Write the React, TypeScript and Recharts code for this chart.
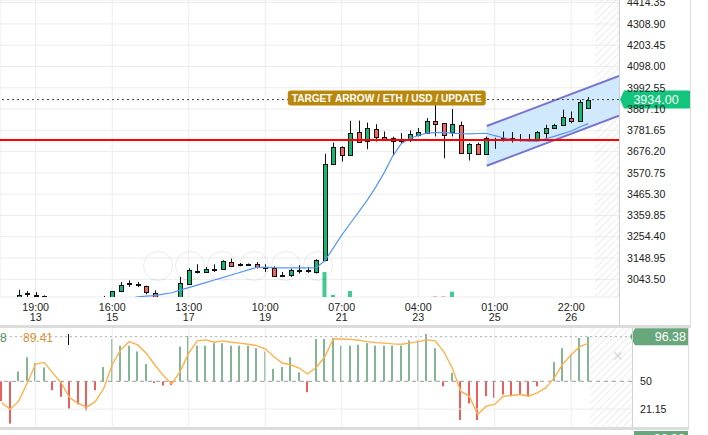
import React from "react";
import {
    Area,
    Bar,
    CartesianGrid,
    ComposedChart,
    Line,
    ReferenceArea,
    ReferenceDot,
    ReferenceLine,
    XAxis,
    YAxis,
} from "recharts";

// candles, 5h each, index 0..69
const openP = [
    2925, 2935, 2935, 2970, 2968, 2962, 2945, 2940, 2925, 2915,
    2925, 2930, 2945, 2948, 2984, 3021, 3021, 3009, 2977, 2945,
    2946, 2945, 3022, 3085, 3080, 3095, 3097, 3129, 3117, 3116,
    3117, 3105, 3100, 3066, 3067, 3087, 3092, 3080, 3138, 3615,
    3698, 3659, 3773, 3730, 3788, 3751, 3731, 3741, 3734, 3758,
    3768, 3829, 3817, 3773, 3809, 3668, 3715, 3664, 3735, 3734,
    3746, 3740, 3736, 3735, 3768, 3793, 3809, 3845, 3826, 3892,
];
const highP = [
    2940, 2950, 2992, 2985, 2980, 2964, 2954, 2948, 2935, 2930,
    2940, 2945, 2961, 2986, 3030, 3038, 3030, 3012, 2989, 2954,
    2955, 3055, 3098, 3118, 3105, 3118, 3138, 3146, 3124, 3122,
    3129, 3118, 3108, 3080, 3097, 3113, 3105, 3143, 3665, 3721,
    3702, 3829, 3830, 3820, 3812, 3776, 3750, 3768, 3781, 3793,
    3842, 3908, 3818, 3887, 3825, 3718, 3721, 3751, 3745, 3776,
    3773, 3763, 3763, 3778, 3809, 3814, 3884, 3875, 3933, 3946,
];
const lowP = [
    2915, 2925, 2928, 2950, 2955, 2940, 2930, 2920, 2905, 2900,
    2915, 2920, 2935, 2940, 2980, 3005, 3005, 2969, 2940, 2935,
    2938, 2940, 3018, 3072, 3075, 3080, 3095, 3105, 3108, 3110,
    3097, 3080, 3055, 3060, 3055, 3072, 3075, 3072, 3133, 3610,
    3627, 3655, 3722, 3688, 3726, 3735, 3655, 3718, 3724, 3751,
    3765, 3751, 3643, 3751, 3668, 3632, 3660, 3660, 3690, 3726,
    3721, 3726, 3726, 3730, 3743, 3788, 3806, 3817, 3824, 3890,
];
const closeP = [
    2935, 2940, 2964, 2974, 2966, 2950, 2940, 2925, 2915, 2925,
    2930, 2940, 2952, 2984, 3014, 3023, 3015, 2980, 2952, 2948,
    2950, 3027, 3092, 3087, 3097, 3097, 3134, 3110, 3116, 3117,
    3105, 3104, 3060, 3067, 3088, 3089, 3083, 3141, 3615, 3698,
    3660, 3768, 3726, 3793, 3748, 3738, 3746, 3730, 3763, 3771,
    3829, 3812, 3759, 3815, 3671, 3715, 3664, 3743, 3738, 3746,
    3734, 3735, 3741, 3773, 3793, 3806, 3847, 3826, 3922, 3934,
];
const maP = [
    null, null, null, null, null, null, null, null, null, null,
    null, null, null, null, 2940, 2948, 2956, 2960, 2963, 2970,
    2977, 2990, 3002, 3015, 3027, 3040, 3052, 3065, 3077, 3090,
    3103, 3103, 3101, 3100, 3100, 3100, 3100, 3101, 3135, 3198,
    3262, 3320, 3378, 3436, 3500, 3572, 3654, 3715, 3741, 3756,
    3768, 3770, 3771, 3768, 3765, 3764, 3766, 3767, 3755, 3745,
    3737, 3731, 3728, 3727, 3740, 3752, 3765, 3778, 3798, 3815,
];
const volP = [
    0, 0, 0, 0, 0, 0, 0, 0, 0, 0,
    0, 0, 0, 0, 0, 0, 0, 0, 0, 0,
    0, 0, 0, 0, 0, 0, 0, 0, 0, 0,
    0, 0, 0, 0, 0, 0, 0, 0, 84, 7,
    0, 20, 0, 0, 0, 0, 0, 0, 0, 0,
    0, 2, 2, 18, 0, 0, 0, 0, 0, 0,
    0, 0, 0, 0, 0, 0, 0, 0, 0, 0,
];

// oscillator pane
const histV = [
    29.4, 6, 60.3, 75, 69, 64.4, 40.7, 33.9, 21.5, 26,
    19.8, 40.7, 64.8, 94, 87, 87, 81, 68, 48.3, 45.6,
    46, 86, 97, 87, 87, 89.6, 89.6, 87, 87, 87,
    84.4, 81, 63, 64.8, 75, 59.3, 38.7, 94, 94, 95,
    87, 87, 88, 89.6, 87, 87, 87, 87, 92.4, 92.4,
    99, 84.4, 44.8, 58.7, 9.8, 27, 9.8, 34.5, 32.9, 36.3,
    34.5, 36.3, 34.5, 44.8, 50, 70, 84.4, 78.2, 95, 96.38,
];
const oscV = [
    27.7, 20.8, 29.4, 48.3, 67.9, 69.6, 58.7, 48.3, 32.9, 27,
    23.2, 28.8, 42.5, 67.2, 82.7, 91.2, 87.8, 79.2, 67.2, 56.2,
    47.3, 60.3, 79.2, 92, 93, 90.6, 92, 90.6, 89.6, 88.5,
    87.1, 83.7, 75.8, 69, 67.2, 63.8, 57.6, 64.4, 75.2, 94,
    94, 93.5, 92.7, 91.2, 90.2, 89.6, 88.9, 88.5, 89.6, 91.2,
    93, 92, 80.9, 63.8, 39.7, 34.5, 15.7, 24.2, 26, 34.5,
    35.3, 36.3, 34.5, 38, 43.2, 53.5, 67.9, 77.5, 86, 89.41,
];

const priceTicks = [
    3043.5, 3148.95, 3254.4, 3359.85, 3465.3, 3570.75, 3676.2,
    3781.65, 3887.1, 3992.55, 4098, 4203.45, 4308.9, 4414.35,
];
const oscTicks = [21.15, 50];
const tickIdx = [4, 13, 22, 31, 40, 49, 58, 67];
const tickTime = ["19:00", "16:00", "13:00", "10:00", "07:00", "04:00", "01:00", "22:00"];
const tickDay = ["13", "15", "17", "19", "21", "23", "25", "26"];

// drawn channel and levels
const channelK = [57.06, 72.62];
const channelLow = [3606, 3854];
const channelHigh = [3803, 4051];
const redLevel = 3733.7;
const targetText = "TARGET ARROW / ETH / USD / UPDATE";
const targetK = 45.3;
const legendLeft = "8";
const legendOsc = "89.41";

const FONT = '"Liberation Sans", Arial, sans-serif';
const UP = "#14b874";
const DOWN = "#f0665e";
const OSC_UP = "#5d9f72";
const OSC_DOWN = "#e42a2a";

const rows = openP.map((o, i) => ({
    k: i,
    o,
    hi: highP[i],
    lo: lowP[i],
    c: closeP[i],
    ma: maP[i],
    vol: volP[i],
}));
const oscRows = histV.map((h, i) => ({ k: i, h, o: oscV[i] }));
const channelRows = channelK.map((k, i) => ({ k, band: [channelLow[i], channelHigh[i]] }));
const lastPrice = closeP[closeP.length - 1];
const lastOsc = histV[histV.length - 1];

const Candle = (props: any) => {
    const { x, y, width, height, payload } = props;
    if (!payload || x == null || y == null) return null;
    const top = Math.min(y, y + height);
    const h = Math.abs(height);
    const { o, c, hi, lo } = payload;
    const span = hi - lo || 1;
    const py = (v: number) => top + ((hi - v) / span) * h;
    const cx = Math.round(x + width / 2) + 0.5;
    const bTop = Math.round(py(Math.max(o, c))) + 0.5;
    let bBot = Math.round(py(Math.min(o, c))) + 0.5;
    if (bBot - bTop < 1) bBot = bTop + 1;
    return (
        <g>
            <line x1={cx} x2={cx} y1={top} y2={top + h} stroke="#111" strokeWidth={1} />
            <rect x={cx - 2} y={bTop} width={4} height={bBot - bTop} fill={c >= o ? UP : DOWN} stroke="#111" strokeWidth={1} />
        </g>
    );
};

const VolBar = (props: any) => {
    const { x, y, width, height, payload } = props;
    if (!payload || !height) return null;
    const top = Math.min(y, y + height);
    return (
        <rect x={x} y={top} width={width} height={Math.abs(height)}
            fill={payload.c >= payload.o ? "#22c07e" : "#f47a72"} fillOpacity={0.85} />
    );
};

const HistBar = (props: any) => {
    const { x, y, width, height, payload } = props;
    if (!payload) return null;
    const h = Math.abs(height);
    if (h < 0.5) return null;
    const top = Math.min(y, y + height);
    const cx = Math.round(x + width / 2);
    return <rect x={cx - 0.75} y={top} width={1.5} height={h} fill={payload.h >= 50 ? OSC_UP : OSC_DOWN} />;
};

const TimeTick = (props: any) => {
    const { x, y, payload } = props;
    const i = tickIdx.indexOf(payload.value);
    if (i < 0) return null;
    return (
        <text x={x} textAnchor="middle" fontFamily={FONT} fontSize={10.7} fill="#222">
            <tspan x={x} y={y + 6}>{tickTime[i]}</tspan>
            <tspan x={x} y={y + 16}>{tickDay[i]}</tspan>
        </text>
    );
};

const PriceTag = (props: any) => {
    const vb = props.viewBox;
    if (!vb) return null;
    const x = vb.x + vb.width + 1;
    const y = vb.y;
    return (
        <g>
            <path d={`M${x} ${y} L${x + 4} ${y - 9} H${x + 68} Q${x + 71} ${y - 9} ${x + 71} ${y - 6} V${y + 6} Q${x + 71} ${y + 9} ${x + 68} ${y + 9} H${x + 4} Z`} fill="#12c47c" />
            <text x={x + 36} y={y + 4.5} textAnchor="middle" fontFamily={FONT} fontSize={12.5} fill="#fff">
                {lastPrice.toFixed(2)}
            </text>
        </g>
    );
};

const OscTag = (props: any) => {
    const vb = props.viewBox;
    if (!vb) return null;
    const x = vb.x + vb.width + 1;
    const y = vb.y;
    return (
        <g>
            <path d={`M${x - 3} ${y} L${x + 2} ${y - 8.5} H${x + 56} V${y + 8.5} H${x + 2} Z`} fill="#68a77c" />
            <text x={x + 53} y={y + 4.5} textAnchor="end" fontFamily={FONT} fontSize={12.5} fill="#fff">
                {lastOsc.toFixed(2)}
            </text>
        </g>
    );
};

const TargetTag = (props: any) => {
    const { cx, cy } = props;
    if (cx == null || cy == null) return null;
    const w = 198;
    return (
        <g>
            <rect x={cx - w / 2} y={cy - 9} width={w} height={15} rx={3} fill="#b8870b" />
            <text x={cx} y={cy + 2.5} textAnchor="middle" fontFamily={FONT} fontWeight="bold" fontSize={11}
                textLength={w - 8} lengthAdjust="spacingAndGlyphs" fill="#fff">
                {targetText}
            </text>
        </g>
    );
};

const line = (left: number, top: number, width: number, height: number, bg: string) => (
    <div style={{ position: "absolute", left, top, width, height, background: bg }} />
);

const App: React.FC = () => {
    return (
        <div style={{ position: "absolute", left: 0, top: 0, width: 708, height: 435, overflow: "hidden", background: "#fff", fontFamily: FONT }}>
            <div style={{ position: "absolute", left: 0, top: 0 }}>
                <ComposedChart width={690} height={325} data={rows} margin={{ top: 0, right: 0, bottom: 0, left: 0 }}>
                    <defs>
                        <pattern id="hatchMain" width="5" height="5" patternUnits="userSpaceOnUse" patternTransform="rotate(45)">
                            <line x1="0" y1="0" x2="0" y2="5" stroke="#e6e6e6" strokeWidth="1.5" />
                        </pattern>
                    </defs>
                    <XAxis xAxisId="p" dataKey="k" type="number" domain={[-0.2, 72.62]} allowDataOverflow
                        ticks={tickIdx} interval={0} tick={<TimeTick />} axisLine={false} tickLine={false} height={28} />
                    <XAxis xAxisId="v" dataKey="k" type="number" domain={[-0.2, 72.62]} allowDataOverflow hide />
                    <YAxis yAxisId="p" orientation="right" width={71} domain={[2955.8, 4427.4]} allowDataOverflow
                        ticks={priceTicks} interval={0} axisLine={false} tickLine={false}
                        tickFormatter={(v: number) => v.toFixed(2)}
                        tick={{ fontSize: 10.6, fill: "#222", fontFamily: FONT }} />
                    <YAxis yAxisId="v" domain={[0, 1000]} allowDataOverflow hide />
                    <CartesianGrid xAxisId="p" yAxisId="p" stroke="#ececec" />
                    <ReferenceArea xAxisId="p" yAxisId="p" x1={69.8} x2={72.62} fill="url(#hatchMain)" fillOpacity={1} stroke="none" ifOverflow="visible" />
                    <Area xAxisId="p" yAxisId="p" data={channelRows} dataKey="band" type="linear"
                        fill="#c9e5fb" fillOpacity={0.85} stroke="#7774cf" strokeWidth={2}
                        dot={false} activeDot={false} isAnimationActive={false} />
                    <Bar xAxisId="v" yAxisId="v" dataKey="vol" barSize={4} shape={<VolBar />} isAnimationActive={false} />
                    <Bar xAxisId="p" yAxisId="p" dataKey={(d: any) => [d.lo, d.hi]} barSize={6} shape={<Candle />} isAnimationActive={false} />
                    <Line xAxisId="p" yAxisId="p" dataKey="ma" type="linear" stroke="#5495f6" strokeWidth={1.2}
                        dot={false} activeDot={false} isAnimationActive={false} />
                    <ReferenceLine xAxisId="p" yAxisId="p" y={redLevel} stroke="#ff0000" strokeWidth={2.2} />
                    <ReferenceLine xAxisId="p" yAxisId="p" y={lastPrice} stroke="#444" strokeDasharray="2 3" label={<PriceTag />} />
                    <ReferenceDot xAxisId="p" yAxisId="p" x={targetK} y={lastPrice} r={0} ifOverflow="visible"
                        shape={(p: any) => <TargetTag cx={p.cx} cy={p.cy} />} />
                </ComposedChart>
            </div>

            {/* pane frame */}
            {line(619, 0, 1, 325, "#d2d2d2")}
            {line(690, 0, 1, 325, "#dddddd")}
            {line(0, 325, 691, 3, "#dcdcdc")}

            {/* navigation buttons */}
            {[158, 190, 222, 254, 286, 318].map((cx) => (
                <div key={cx} style={{ position: "absolute", left: cx - 15, top: 251, width: 30, height: 30, borderRadius: "50%", border: "1px solid rgba(0,0,0,0.08)", boxSizing: "border-box" }} />
            ))}

            <div style={{ position: "absolute", left: 0, top: 328 }}>
                <ComposedChart width={688} height={99} data={oscRows} margin={{ top: 0, right: 0, bottom: 0, left: 0 }}>
                    <defs>
                        <pattern id="hatchOsc" width="5" height="5" patternUnits="userSpaceOnUse" patternTransform="rotate(45)">
                            <line x1="0" y1="0" x2="0" y2="5" stroke="#e6e6e6" strokeWidth="1.5" />
                        </pattern>
                    </defs>
                    <XAxis dataKey="k" type="number" domain={[-0.2, 74.15]} allowDataOverflow hide />
                    <YAxis orientation="right" width={56} domain={[2.54, 105.35]} allowDataOverflow
                        ticks={oscTicks} interval={0} axisLine={false} tickLine={false}
                        tickFormatter={(v: number) => String(v)}
                        tick={{ fontSize: 10.6, fill: "#222", fontFamily: FONT }} />
                    {tickIdx.map((t) => (
                        <ReferenceLine key={t} x={t} stroke="#ececec" />
                    ))}
                    <ReferenceLine y={oscTicks[0]} stroke="#ececec" />
                    <ReferenceArea x1={69.2} x2={74.15} fill="url(#hatchOsc)" fillOpacity={1} stroke="none" ifOverflow="visible" />
                    <ReferenceLine y={50} stroke="#9a9a9a" strokeDasharray="4 4" />
                    <ReferenceLine y={lastOsc} stroke="#b0b0b0" strokeDasharray="2 3" label={<OscTag />} />
                    <Bar dataKey={(d: any) => (d.h >= 50 ? [50, d.h] : [d.h, 50])} barSize={2} shape={<HistBar />} isAnimationActive={false} />
                    <Line dataKey="o" type="linear" stroke="#ffb04a" strokeWidth={1.4} dot={false} activeDot={false} isAnimationActive={false} />
                </ComposedChart>
            </div>

            {/* oscillator legend */}
            <div style={{ position: "absolute", left: 0, top: 331, fontSize: 12, color: "#4f8f63", whiteSpace: "nowrap" }}>{legendLeft}</div>
            <div style={{ position: "absolute", left: 23, top: 331, fontSize: 12, color: "#d8923c", whiteSpace: "nowrap" }}>{legendOsc}</div>
            {line(68, 334, 1, 11, "#111")}
            <div style={{ position: "absolute", left: 612, top: 348, fontSize: 14, color: "#dcdcdc" }}>✕</div>

            {line(632, 328, 1, 99, "#d2d2d2")}
            {line(688, 328, 1, 99, "#dddddd")}
            {line(0, 427, 689, 2.5, "#dcdcdc")}

            {/* next pane, cut off */}
            <div style={{ position: "absolute", left: 634, top: 431, width: 54, height: 16, background: "#68a77c", color: "#fff", fontSize: 12.5, textAlign: "right", paddingRight: 3, boxSizing: "border-box", lineHeight: "16px" }}>
                {lastOsc.toFixed(2)}
            </div>
        </div>
    );
};

export default App;
